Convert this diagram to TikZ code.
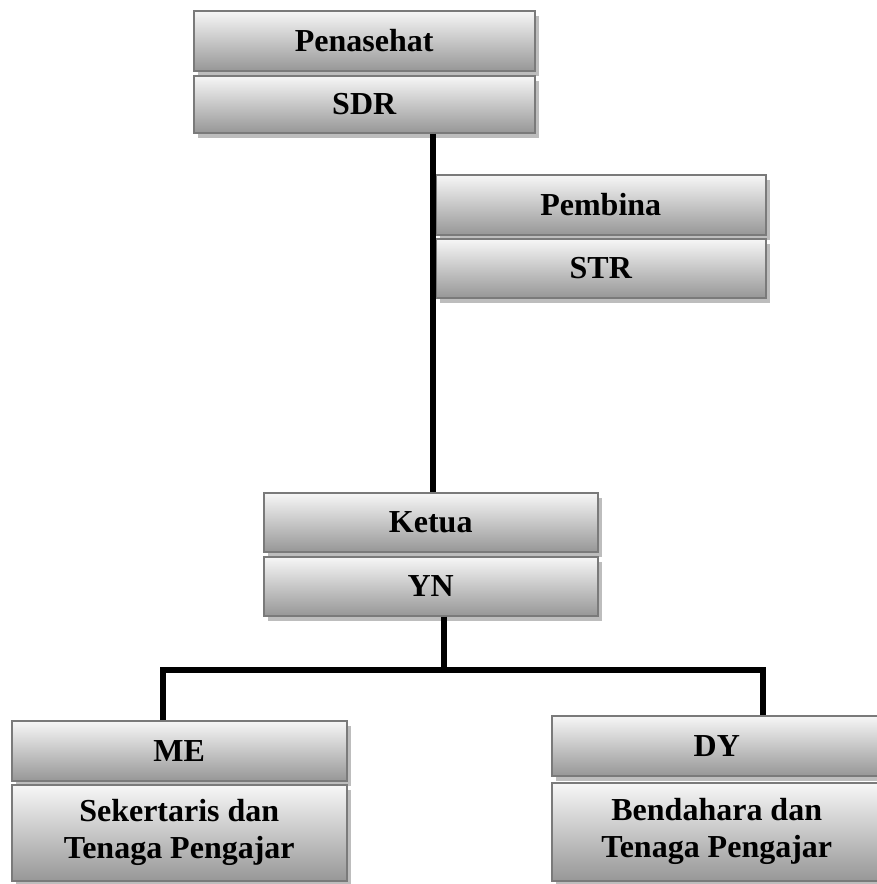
\documentclass[tikz,border=0pt]{standalone}
\usepackage{fontspec}
\setmainfont{Liberation Serif}
\usetikzlibrary{shadows}
\definecolor{boxline}{HTML}{7A7A7A}
\definecolor{boxtop}{HTML}{F7F7F7}
\definecolor{boxbot}{HTML}{979797}
\definecolor{shad}{HTML}{BDBDBD}
\begin{document}
\begin{tikzpicture}[x=1pt,y=-1pt,
  orgbox/.style={draw=boxline, line width=1.5pt, top color=boxtop, bottom color=boxbot,
    drop shadow={shadow xshift=4pt, shadow yshift=-5pt, fill=shad, opacity=1},
    font=\bfseries\fontsize{32}{37}\selectfont, align=center, inner sep=0pt,
    anchor=north west},
  conn/.style={line width=5.5pt, black}]
\useasboundingbox (0,0) rectangle (876,884);
\node[orgbox, minimum width=341pt, minimum height=60pt] (pen) at (193,10) {Penasehat};
\node[orgbox, minimum width=341pt, minimum height=57pt] (sdr) at (193,75) {SDR};
\node[orgbox, minimum width=330pt, minimum height=60pt] (pem) at (435,174) {Pembina};
\node[orgbox, minimum width=330pt, minimum height=59pt] (str) at (435,238) {STR};
\node[orgbox, minimum width=334pt, minimum height=59pt] (ket) at (263,492) {Ketua};
\node[orgbox, minimum width=334pt, minimum height=59pt] (yn) at (263,556) {YN};
\node[orgbox, minimum width=335pt, minimum height=60pt] (me) at (11,720) {ME};
\node[orgbox, minimum width=335pt, minimum height=96pt] (sek) at (11,784) {Sekertaris dan\\Tenaga Pengajar};
\node[orgbox, minimum width=330pt, minimum height=60pt] (dy) at (551,715) {DY};
\node[orgbox, minimum width=330pt, minimum height=98pt] (ben) at (551,782) {Bendahara dan\\Tenaga Pengajar};
\coordinate (j) at (444,670);
\coordinate (jl) at (163,670);
\coordinate (jr) at (763,670);
\draw[conn] ([xshift=-2pt]sdr.south -| pem.west) -- ([xshift=-2pt]ket.north -| pem.west);
\draw[conn] (yn.south -| j) -- (j);
\draw[conn] (me.north -| jl) -- (jl) -- (jr) -- (dy.north -| jr);
\end{tikzpicture}
\end{document}
